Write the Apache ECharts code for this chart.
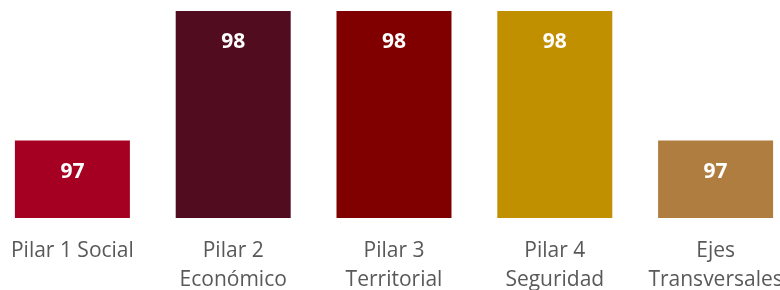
<!DOCTYPE html>
<html>
<head>
<meta charset="UTF-8">
<title>Pilares</title>
<script src="https://cdn.jsdelivr.net/npm/echarts@6/dist/echarts.min.js"></script>
<style>
html, body { margin: 0; padding: 0; background: #ffffff; }
#chart { width: 780px; height: 290px; }
</style>
</head>
<body>
<div id="chart"></div>
<script>
// datos
var categorias = ['Pilar 1 Social', 'Pilar 2\nEconómico', 'Pilar 3\nTerritorial', 'Pilar 4\nSeguridad', 'Ejes\nTransversales'];
var valores = [97, 98, 98, 98, 97];
var colores = ['#A50021', '#520C20', '#800000', '#C09000', '#B07D40'];

var chart = echarts.init(document.getElementById('chart'));
chart.setOption({
    animation: false,
    grid: { left: -8, right: -16, top: 11, bottom: 72, outerBoundsMode: 'none', containLabel: false },
    xAxis: {
        type: 'category',
        data: categorias,
        axisLine: { show: false },
        axisTick: { show: false },
        axisLabel: {
            interval: 0,
            margin: 19,
            color: '#595959',
            fontSize: 21,
            lineHeight: 29,
            fontFamily: 'Open Sans'
        }
    },
    yAxis: {
        type: 'value',
        min: 96.4,
        max: 98,
        show: false,
        splitLine: { show: false }
    },
    series: [{
        type: 'bar',
        barWidth: 115,
        data: valores.map(function (v, i) {
            return { value: v, itemStyle: { color: colores[i] } };
        }),
        label: {
            show: true,
            position: 'insideTop',
            distance: 21,
            color: '#ffffff',
            fontSize: 21,
            fontWeight: 'bold',
            fontFamily: 'Open Sans'
        }
    }]
});
</script>
</body>
</html>
